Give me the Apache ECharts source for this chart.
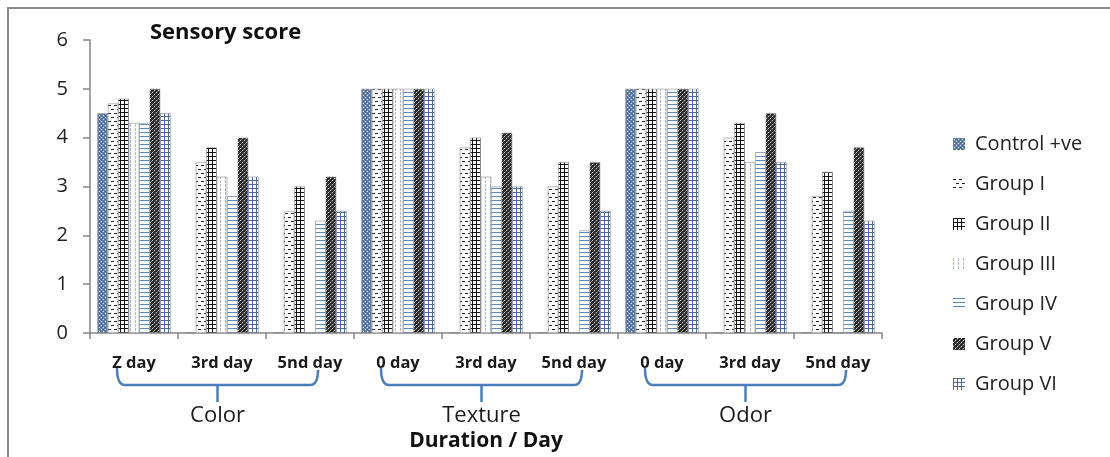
<!DOCTYPE html>
<html>
<head>
<meta charset="utf-8">
<script src="https://cdn.jsdelivr.net/npm/echarts@6/dist/echarts.min.js"></script>
<style>
html,body{margin:0;padding:0;background:#fff;}
#chart{width:1110px;height:457px;}
</style>
</head>
<body>
<div id="chart"></div>
<script>
// ---- data ----
var categories = ['Z day', '3rd day', '5nd day', '0 day', '3rd day', '5nd day', '0 day', '3rd day', '5nd day'];
var groupLabels = ['Color', 'Texture', 'Odor'];
var seriesNames = ['Control +ve', 'Group I', 'Group II', 'Group III', 'Group IV', 'Group V', 'Group VI'];
var controlVe = [4.5, 0, 0, 5, 0, 0, 5, 0, 0];
var groupI    = [4.7, 3.5, 2.5, 5, 3.8, 3.0, 5, 4.0, 2.8];
var groupII   = [4.8, 3.8, 3.0, 5, 4.0, 3.5, 5, 4.3, 3.3];
var groupIII  = [4.3, 3.2, 0, 5, 3.2, 0, 5, 3.5, 0];
var groupIV   = [4.3, 2.8, 2.3, 5, 3.0, 2.1, 5, 3.7, 2.5];
var groupV    = [5.0, 4.0, 3.2, 5, 4.1, 3.5, 5, 4.5, 3.8];
var groupVI   = [4.5, 3.2, 2.5, 5, 3.0, 2.5, 5, 3.5, 2.3];
var yTicks = [0, 1, 2, 3, 4, 5, 6];

// ---- patterns ----
function pat(w, h, bg, draw) {
  var c = document.createElement('canvas');
  c.width = w; c.height = h;
  var g = c.getContext('2d');
  g.fillStyle = bg; g.fillRect(0, 0, w, h);
  draw(g);
  return {image: c, repeat: 'repeat'};
}
var patterns = [
  pat(4, 4, '#6282aa', function (g) {
    g.fillStyle = '#e8eef6'; g.fillRect(1, 1, 1, 1); g.fillRect(3, 3, 1, 1);
    g.fillStyle = '#3b5a82'; g.fillRect(3, 1, 1, 1); g.fillRect(1, 3, 1, 1);
  }),
  pat(6, 8, '#ffffff', function (g) {
    g.fillStyle = '#222'; g.fillRect(0, 1, 3, 1); g.fillRect(3, 5, 3, 1);
  }),
  pat(4, 4, '#ffffff', function (g) {
    g.fillStyle = '#111'; g.fillRect(0, 0, 4, 1); g.fillRect(0, 0, 1, 4);
  }),
  pat(5, 4, '#ffffff', function (g) {
    g.fillStyle = '#a9bcd6'; g.fillRect(0, 0, 1, 3);
  }),
  pat(2, 4, '#ffffff', function (g) {
    g.fillStyle = '#5b86c0'; g.fillRect(0, 0, 2, 1);
  }),
  pat(4, 4, '#2b2b2b', function (g) {
    g.fillStyle = '#d8d8d8'; g.fillRect(0, 0, 1, 1); g.fillRect(2, 2, 1, 1);
    g.fillStyle = '#777'; g.fillRect(1, 3, 1, 1); g.fillRect(3, 1, 1, 1);
  }),
  pat(4, 4, '#ffffff', function (g) {
    g.fillStyle = '#4a6d9e'; g.fillRect(0, 0, 4, 1); g.fillRect(0, 0, 1, 4);
  })
];

var allValues = [controlVe, groupI, groupII, groupIII, groupIV, groupV, groupVI];
var FONT = '"Open Sans", sans-serif';

var series = seriesNames.map(function (name, i) {
  return {
    name: name,
    type: 'bar',
    data: allValues[i],
    barGap: '0%',
    barCategoryGap: '16.7%',
    itemStyle: {color: patterns[i], borderColor: '#8c8c8c', borderWidth: 0.6},
    emphasis: {disabled: true}
  };
});

var chart = echarts.init(document.getElementById('chart'));
chart.setOption({
  animation: false,
  backgroundColor: '#ffffff',
  title: {
    text: 'Sensory score', left: 145, top: 17,
    textStyle: {fontFamily: FONT, fontSize: 22, fontWeight: 'bold', color: '#111'}
  },
  legend: {
    orient: 'vertical', left: 948, top: 129,
    itemWidth: 12, itemHeight: 12, itemGap: 20,
    icon: 'rect',
    itemStyle: {borderWidth: 0},
    textStyle: {fontFamily: FONT, fontSize: 20, color: '#222', lineHeight: 20, padding: [0, 0, 0, 5]},
    data: seriesNames
  },
  grid: {left: 90, right: 228, top: 40, bottom: 123},
  xAxis: {
    type: 'category',
    data: categories,
    axisLine: {lineStyle: {color: '#868686', width: 1.5}},
    axisTick: {show: true, length: 6, lineStyle: {color: '#868686', width: 1.5}},
    axisLabel: {margin: 22, fontFamily: FONT, fontSize: 16.5, fontWeight: 'bold', color: '#1a1a1a', interval: 0},
    name: 'Duration / Day',
    nameLocation: 'middle',
    nameGap: 98,
    nameTextStyle: {fontFamily: FONT, fontSize: 21, fontWeight: 'bold', color: '#111'}
  },
  yAxis: {
    type: 'value', min: 0, max: 6, interval: 1,
    axisLine: {show: true, lineStyle: {color: '#868686', width: 1.5}},
    axisTick: {show: true, length: 7, lineStyle: {color: '#868686', width: 1.5}},
    splitLine: {show: false},
    axisLabel: {margin: 22, fontFamily: FONT, fontSize: 20, color: '#222',
      formatter: function (v) { return yTicks.indexOf(v) >= 0 ? String(v) : ''; }}
  },
  series: series
});

// ---- group brackets and labels (positioned from the category axis) ----
function quad(p0, p1, p2, n) {
  var out = [];
  for (var k = 0; k <= n; k++) {
    var t = k / n, a = (1 - t) * (1 - t), b = 2 * (1 - t) * t, c = t * t;
    out.push([a * p0[0] + b * p1[0] + c * p2[0], a * p0[1] + b * p1[1] + c * p2[1]]);
  }
  return out;
}
var graphics = [{
  type: 'rect', silent: true,
  shape: {x: 8, y: 8, width: 1120, height: 470},
  style: {fill: 'none', stroke: '#8a8a8a', lineWidth: 2}
}];
var yTop = 368, yLine = 385, yTip = 402;
groupLabels.forEach(function (lab, gi) {
  var p0 = chart.convertToPixel({xAxisIndex: 0}, gi * 3);
  var L = p0 - 17, R = p0 + 184, C = (L + R) / 2;
  var pts = quad([L, yTop], [L, yLine], [L + 8, yLine], 8)
    .concat(quad([R - 8, yLine], [R, yLine], [R, yTop + 2], 8));
  graphics.push({
    type: 'polyline', silent: true,
    shape: {points: pts},
    style: {fill: null, stroke: '#4a7ebb', lineWidth: 2.5}
  });
  graphics.push({
    type: 'line', silent: true,
    shape: {x1: C, y1: yLine, x2: C, y2: yTip},
    style: {stroke: '#4a7ebb', lineWidth: 2.5}
  });
  graphics.push({
    type: 'text', silent: true,
    x: C, y: 416,
    style: {text: lab, fontFamily: FONT, fontSize: 22, fill: '#1a1a1a', align: 'center', verticalAlign: 'middle'}
  });
});
chart.setOption({graphic: graphics});
</script>
</body>
</html>
